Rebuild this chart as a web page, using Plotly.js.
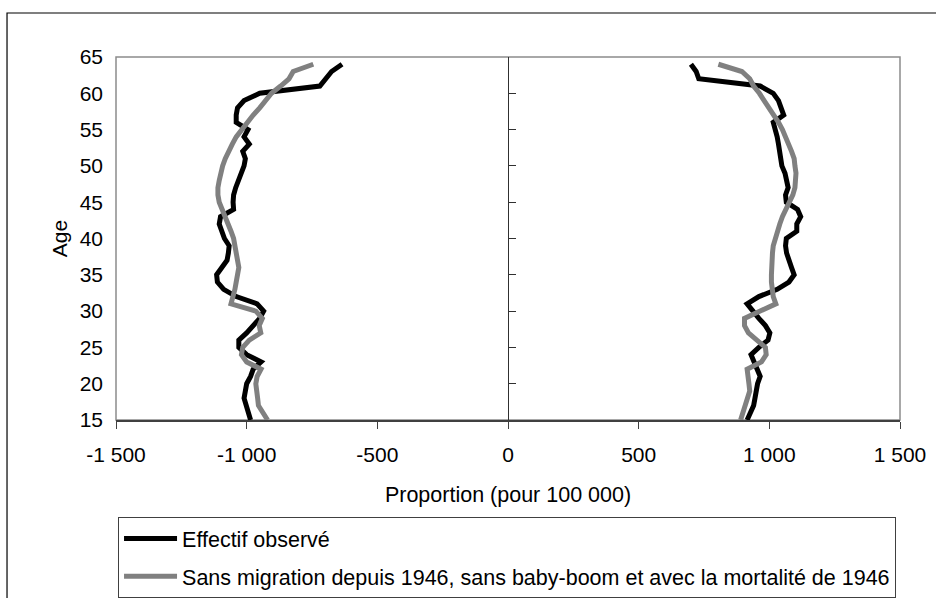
<!DOCTYPE html>
<html>
<head>
<meta charset="utf-8">
<script src="https://cdn.plot.ly/plotly-3.0.1.min.js"></script>
<style>html,body{margin:0;padding:0;background:#fff;}#chart{width:936px;height:598px;}</style>
</head>
<body>
<div id="chart"></div>
<script>
const ages = [15,16,17,18,19,20,21,22,23,24,25,26,27,28,29,30,31,32,33,34,35,36,37,38,39,40,41,42,43,44,45,46,47,48,49,50,51,52,53,54,55,56,57,58,59,60,61,62,63,64];

const hommesObserve = [-985,-995,-1005,-1010,-1005,-1000,-985,-975,-945,-1000,-1030,-1030,-1000,-975,-950,-935,-960,-1040,-1088,-1112,-1115,-1095,-1075,-1070,-1067,-1085,-1095,-1105,-1100,-1050,-1052,-1050,-1042,-1030,-1020,-1010,-1005,-1015,-990,-1010,-995,-1040,-1040,-1035,-1010,-950,-720,-700,-675,-635];
const hommesSansMig = [-920,-940,-955,-958,-960,-965,-960,-945,-1000,-1020,-1015,-990,-946,-952,-940,-965,-1060,-1050,-1045,-1040,-1035,-1030,-1035,-1040,-1045,-1050,-1060,-1070,-1085,-1095,-1105,-1110,-1110,-1105,-1100,-1092,-1082,-1070,-1055,-1040,-1020,-1000,-975,-950,-930,-905,-870,-838,-822,-745];
const femmesObserve = [915,930,940,945,950,955,965,955,945,930,960,995,1002,985,960,935,915,960,1030,1075,1095,1085,1075,1066,1062,1065,1105,1105,1120,1108,1065,1062,1072,1068,1060,1048,1045,1040,1035,1030,1022,1015,1055,1045,1035,1015,965,730,720,700];
const femmesSansMig = [890,900,910,920,925,922,918,915,970,988,985,950,920,905,905,965,1025,1015,1010,1008,1008,1008,1008,1012,1015,1022,1030,1040,1050,1065,1080,1090,1098,1102,1102,1098,1095,1085,1075,1062,1050,1035,1015,998,980,962,940,925,895,805];

const seriesNames = ['Effectif observé', 'Sans migration depuis 1946, sans baby-boom et avec la mortalité de 1946'];
const xTickVals = [-1500,-1000,-500,0,500,1000,1500];
const xTickText = ['-1 500','-1 000','-500','0','500','1 000','1 500'];
const yTickVals = [15,20,25,30,35,40,45,50,55,60,65];
const xTitle = 'Proportion (pour 100 000)';
const yTitle = 'Age';

const FONT = 'Liberation Sans, Arial, sans-serif';
const black = '#000000';
const gray = '#808080';

const traces = [
  {x: hommesObserve, y: ages, name: seriesNames[0], legendgroup: 'a', mode: 'lines', line: {color: black, width: 5}, showlegend: true},
  {x: femmesObserve, y: ages, name: seriesNames[0], legendgroup: 'a', mode: 'lines', line: {color: black, width: 5}, showlegend: false},
  {x: hommesSansMig, y: ages, name: seriesNames[1], legendgroup: 'b', mode: 'lines', line: {color: gray, width: 5}, showlegend: true},
  {x: femmesSansMig, y: ages, name: seriesNames[1], legendgroup: 'b', mode: 'lines', line: {color: gray, width: 5}, showlegend: false}
];

const layout = {
  width: 936, height: 598,
  margin: {l: 116, r: 36, t: 57, b: 178, autoexpand: false},
  paper_bgcolor: '#ffffff', plot_bgcolor: '#ffffff',
  font: {family: FONT, size: 21, color: '#000'},
  showlegend: true,
  xaxis: {
    range: [-1500, 1500], tickvals: xTickVals, ticktext: xTickText,
    showgrid: false, zeroline: false, automargin: false,
    showline: true, linecolor: '#404040', linewidth: 2,
    ticks: 'outside', ticklen: 7, tickcolor: '#404040', tickwidth: 1,
    ticklabelstandoff: 8,
    tickfont: {family: FONT, size: 21, color: '#000'},
    title: {text: xTitle, font: {family: FONT, size: 21.5, color: '#000'}, standoff: 22},
    fixedrange: true
  },
  yaxis: {
    range: [15, 65], tickvals: yTickVals, automargin: false,
    showgrid: false, zeroline: false, showline: false,
    ticks: '', ticklabelstandoff: 12,
    tickfont: {family: FONT, size: 21, color: '#000'},
    title: {text: yTitle, font: {family: FONT, size: 21, color: '#000'}, standoff: 6},
    fixedrange: true
  },
  yaxis2: {
    range: [15, 65], tickvals: yTickVals, overlaying: 'y', anchor: 'free', position: 0.5, side: 'left',
    showgrid: false, zeroline: false, showline: true, linecolor: '#303030', linewidth: 1, automargin: false,
    ticks: 'inside', ticklen: 7, tickcolor: '#303030', showticklabels: false, fixedrange: true
  },
  legend: {
    x: 0.0026, xanchor: 'left', y: -0.267, yanchor: 'top',
    bordercolor: '#404040', borderwidth: 1, bgcolor: '#ffffff',
    font: {family: FONT, size: 21.5, color: '#000'},
    traceorder: 'grouped', tracegroupgap: 7, itemwidth: 53
  },
  shapes: [
    {type: 'rect', xref: 'paper', yref: 'paper', x0: 0, x1: 1, y0: 0, y1: 1, line: {color: '#8c8c8c', width: 1.5}, layer: 'below'},
    {type: 'rect', xref: 'paper', yref: 'paper', x0: -0.139, x1: 1.1, y0: -0.55, y1: 1.1212, line: {color: '#000', width: 1.2}, layer: 'below'}
  ]
};

// invisible trace that activates yaxis2 (the axis drawn along the zero line)
traces.push({x: [0], y: [15], yaxis: 'y2', mode: 'lines', showlegend: false, hoverinfo: 'skip', line: {color: 'rgba(0,0,0,0)'}});

Plotly.newPlot('chart', traces, layout, {displayModeBar: false, staticPlot: true});
</script>
</body>
</html>
